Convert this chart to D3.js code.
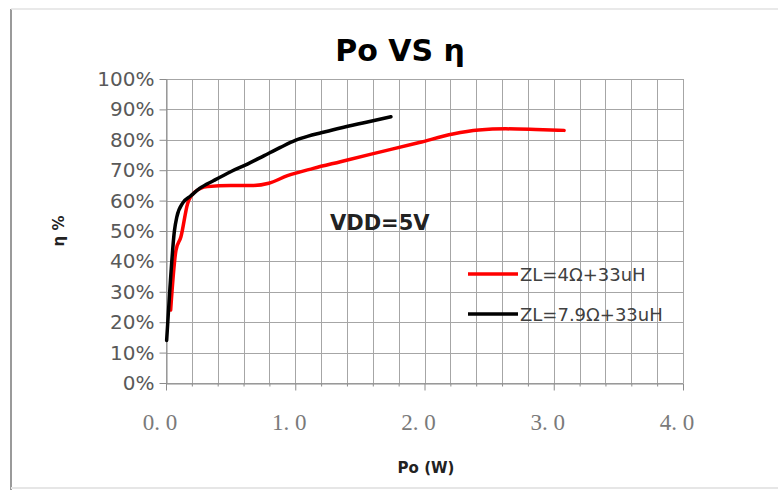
<!DOCTYPE html>
<html><head><meta charset="utf-8">
<script src="https://cdn.jsdelivr.net/npm/d3@7"></script>
<style>body{margin:0;background:#fff;}svg{display:block;}</style>
</head><body>
<svg id="c" width="778" height="490"></svg>
<script>
// ---- data ----
const title = "Po VS η";
const xLabel = "Po (W)";
const yLabel = "η %";
const note = "VDD=5V";
const seriesNames = ["ZL=4Ω+33uH", "ZL=7.9Ω+33uH"];
const seriesColors = ["#ff0000", "#000000"];
const xTicks = [0, 1, 2, 3, 4];
const xTickLabels = ["0. 0", "1. 0", "2. 0", "3. 0", "4. 0"];
const yTicks = [0, 10, 20, 30, 40, 50, 60, 70, 80, 90, 100];
// ZL=4Ω+33uH (red)
const redPo  = [0.036, 0.077, 0.115, 0.167, 0.22, 0.32, 0.5, 0.68, 0.795, 0.94, 1.14, 1.35, 1.58, 1.96, 2.22, 2.42, 2.63, 2.86, 3.08];
const redEff = [24, 43.6, 48, 59, 62.7, 64.6, 65, 65, 65.7, 68.2, 70.6, 72.8, 75.2, 79.1, 81.9, 83.2, 83.6, 83.4, 83.1];
// ZL=7.9Ω+33uH (black)
const blkPo  = [0.005, 0.03, 0.065, 0.083, 0.133, 0.19, 0.26, 0.37, 0.5, 0.63, 0.76, 0.885, 1.0, 1.1, 1.2, 1.35, 1.55, 1.74];
const blkEff = [14, 31, 50, 54.5, 59.4, 61.5, 64, 66.6, 69.5, 72, 74.8, 77.5, 79.8, 81.2, 82.3, 83.9, 85.8, 87.6];

// ---- drawing ----
const svg = d3.select("#c");
const x = d3.scaleLinear().domain([0, 4]).range([166, 683]);
const y = d3.scaleLinear().domain([0, 100]).range([383, 79]);

// frame
svg.append("line").attr("x1", 11).attr("x2", 11).attr("y1", 9).attr("y2", 490).attr("stroke", "#9a9a9a").attr("stroke-width", 2);
svg.append("line").attr("x1", 11).attr("x2", 778).attr("y1", 9).attr("y2", 9).attr("stroke", "#e2e2e2").attr("stroke-width", 1.5);
svg.append("line").attr("x1", 11).attr("x2", 778).attr("y1", 488).attr("y2", 488).attr("stroke", "#e6e6e6").attr("stroke-width", 2);

const grid = svg.append("g").attr("stroke", "#a6a6a6").attr("stroke-width", 1);
const vgrid = d3.range(0, 4.0001, 0.2);
grid.selectAll("line.v").data(vgrid).join("line")
  .attr("x1", d => Math.round(x(d)) + 0.5).attr("x2", d => Math.round(x(d)) + 0.5)
  .attr("y1", y(100)).attr("y2", y(0));
grid.selectAll("line.h").data(yTicks).join("line")
  .attr("x1", x(0)).attr("x2", x(4))
  .attr("y1", d => Math.round(y(d)) + 0.5).attr("y2", d => Math.round(y(d)) + 0.5);

// y axis
const yAxis = svg.append("g").attr("transform", `translate(${x(0) + 0.5},0)`)
  .call(d3.axisLeft(y).tickValues(yTicks).tickFormat(d => d + "%").tickSize(7).tickSizeOuter(0).tickPadding(5));
yAxis.select(".domain").attr("stroke", "#8c8c8c");
yAxis.selectAll(".tick line").attr("stroke", "#8c8c8c");
yAxis.selectAll(".tick text").attr("font-family", "DejaVu Sans").attr("font-size", 20).attr("fill", "#595959");

// x axis
const xAxis = svg.append("g").attr("transform", `translate(0,${Math.round(y(0)) + 0.5})`)
  .call(d3.axisBottom(x).tickValues(vgrid).tickFormat("").tickSize(3).tickSizeOuter(0));
xAxis.select(".domain").attr("stroke", "#8c8c8c");
xAxis.selectAll(".tick line").attr("stroke", "#8c8c8c").attr("y2", d => xTicks.some(t => Math.abs(t - d) < 1e-6) ? 7 : 3);
svg.append("g").selectAll("text").data(xTicks).join("text")
  .attr("x", d => x(d) - 6).attr("y", 430)
  .attr("text-anchor", "middle")
  .attr("font-family", "Liberation Serif").attr("font-size", 23).attr("fill", "#7a7a7a")
  .text((d, i) => xTickLabels[i]);

// lines
const line = d3.line().x(d => x(d[0])).y(d => y(d[1])).curve(d3.curveMonotoneX);
const series = [
  { name: seriesNames[0], color: seriesColors[0], pts: d3.zip(redPo, redEff) },
  { name: seriesNames[1], color: seriesColors[1], pts: d3.zip(blkPo, blkEff) }
];
svg.append("g").selectAll("path").data(series).join("path")
  .attr("d", d => line(d.pts)).attr("fill", "none")
  .attr("stroke", d => d.color).attr("stroke-width", 3.5)
  .attr("stroke-linejoin", "round").attr("stroke-linecap", "round");

// title
svg.append("text").attr("x", 400).attr("y", 61).attr("text-anchor", "middle")
  .attr("font-family", "DejaVu Sans").attr("font-weight", "bold").attr("font-size", 30).attr("fill", "#000")
  .text(title);

// note
svg.append("text").attr("x", 330).attr("y", 230)
  .attr("font-family", "DejaVu Sans").attr("font-weight", "bold").attr("font-size", 21).attr("fill", "#222")
  .text(note);

// axis titles
svg.append("text").attr("x", 426).attr("y", 473).attr("text-anchor", "middle")
  .attr("font-family", "DejaVu Sans").attr("font-weight", "bold").attr("font-size", 15).attr("fill", "#222")
  .text(xLabel);
svg.append("text").attr("transform", "translate(64,231) rotate(-90)").attr("text-anchor", "middle")
  .attr("font-family", "DejaVu Sans").attr("font-weight", "bold").attr("font-size", 15).attr("fill", "#222")
  .text(yLabel);

// legend
const leg = svg.append("g").selectAll("g").data(series).join("g")
  .attr("transform", (d, i) => `translate(468,${274 + i * 40})`);
leg.append("line").attr("x1", 0).attr("x2", 50).attr("y1", 0).attr("y2", 0)
  .attr("stroke", d => d.color).attr("stroke-width", 3.5);
leg.append("text").attr("x", 52).attr("y", 6.5)
  .attr("font-family", "DejaVu Sans").attr("font-size", 18).attr("fill", "#404040")
  .text(d => d.name);
</script>
</body></html>
